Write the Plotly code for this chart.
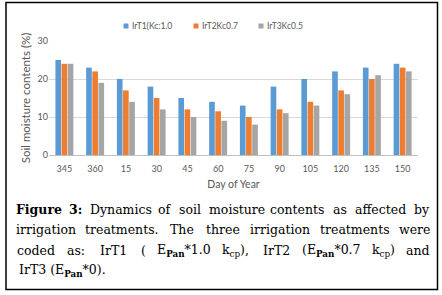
import re
import plotly.graph_objects as go

days = ["345", "360", "15", "30", "45", "60", "75", "90", "105", "120", "135", "150"]
series_names = ["IrT1(Kc:1.0", "IrT2Kc0.7", "IrT3Kc0.5"]
irt1 = [25, 23, 20, 18, 15, 14, 13, 18, 20, 22, 23, 24]
irt2 = [24, 22, 17, 15, 12, 11.5, 10, 12, 14, 17, 20, 23]
irt3 = [24, 19, 14, 12, 10, 9, 8, 11, 13, 16, 21, 22]
y_ticks = [0, 10, 20, 30]
colors = ["#5B9BD5", "#ED7D31", "#A5A5A5"]

W, H = 442, 295
L, R, T, B = 49, 418, 41, 155  # plot area in pixels


def px_x(x):
    return (x - L) / (R - L)


def px_y(y):
    return (B - y) / (B - T)


fig = go.Figure()
for name, vals, c in zip(series_names, [irt1, irt2, irt3], colors):
    fig.add_trace(go.Bar(x=days, y=vals, name=name, marker_color=c,
                         marker_line_width=0, showlegend=False))

chart_font = "Lato, Liberation Sans, sans-serif"
grey = "#595959"

fig.update_layout(
    width=W, height=H,
    margin=dict(l=L, r=W - R, t=T, b=H - B),
    paper_bgcolor="white", plot_bgcolor="white",
    barmode="group", bargap=0.4, bargroupgap=0.08,
    font=dict(family=chart_font, size=9, color=grey),
    xaxis=dict(type="category", showgrid=False, showline=True, linecolor="#bfbfbf",
               linewidth=1, ticks="", tickfont=dict(size=9, color=grey), ticklabelstandoff=5,
               title=dict(text="Day of Year", font=dict(size=10.5, color=grey), standoff=7)),
    yaxis=dict(range=[0, 30], tickvals=y_ticks, showgrid=True, gridcolor="#d9d9d9",
               gridwidth=1, zeroline=False, ticks="", tickfont=dict(size=9, color=grey),
               title=dict(text="Soil moisture contents (%)", font=dict(size=11.5, color=grey),
                          standoff=4)),
)

# manual legend
leg_x = [126, 196, 261]
for name, c, lx in zip(series_names, colors, leg_x):
    fig.add_shape(type="rect", xref="paper", yref="paper",
                  x0=px_x(lx - 2.5), x1=px_x(lx + 2.5), y0=px_y(28.5), y1=px_y(23.5),
                  fillcolor=c, line_width=0)
    fig.add_annotation(x=px_x(lx + 4), y=px_y(26), xref="paper", yref="paper",
                       text=name, showarrow=False, xanchor="left", yanchor="middle",
                       font=dict(size=8.5, color=grey, family=chart_font))

# outer frame
fig.add_shape(type="rect", xref="paper", yref="paper",
              x0=px_x(6), x1=px_x(437.5), y0=px_y(289.5), y1=px_y(2.5),
              line=dict(color="black", width=1.5), fillcolor="rgba(0,0,0,0)")

# caption (justified by word)
serif = "DejaVu Serif, Liberation Serif, serif"
cap_size = 12.5


def est_width(word, size, bold=False):
    w = 0.0
    parts = re.split(r"(<sub>.*?</sub>)", word)
    for p in parts:
        scale = 1.0
        if p.startswith("<sub>"):
            scale = 0.7
        p = re.sub(r"<.*?>", "", p)
        for ch in p:
            if ch in "iljtfr.,:;()!'* ":
                cw = 0.36
            elif ch.isupper() or ch in "mw":
                cw = 0.75
            elif ch.isdigit():
                cw = 0.64
            else:
                cw = 0.6
            w += cw * size * scale
    if bold:
        w *= 1.08
    return w


def place_line(words, ypx, left=17, right=429, justify=True):
    widths = [est_width(w, cap_size, w.startswith("<b>")) for w in words]
    if justify and len(words) > 1:
        gap = (right - left - sum(widths)) / (len(words) - 1)
    else:
        gap = est_width(" ", cap_size)
    x = left
    for w, wd in zip(words, widths):
        fig.add_annotation(x=px_x(x + wd / 2), y=px_y(ypx), xref="paper", yref="paper",
                           text=w, showarrow=False, xanchor="center", yanchor="middle",
                           font=dict(family=serif, size=cap_size, color="black"))
        x += wd + gap


Ep = "E<sub><b>Pan</b></sub>"
place_line(["<b>Figure</b>", "<b>3:</b>", "Dynamics", "of", "soil", "moisture", "contents",
            "as", "affected", "by"], 209)
place_line(["irrigation", "treatments.", "The", "three", "irrigation", "treatments", "were"], 229)
place_line(["coded", "as:", "IrT1", "(", Ep + "*1.0", "k<sub>cp</sub>),", "IrT2",
            "(" + Ep + "*0.7", "k<sub>cp</sub>)", "and"], 250)
fig.add_annotation(x=px_x(17), y=px_y(270), xref="paper", yref="paper",
                   text="IrT3 (" + Ep + "*0).", showarrow=False, xanchor="left", yanchor="middle",
                   font=dict(family=serif, size=cap_size, color="black"))

fig.write_html("out.html", config={"displayModeBar": False},
               post_script="document.body.style.margin='0';document.body.style.overflow='hidden';")
